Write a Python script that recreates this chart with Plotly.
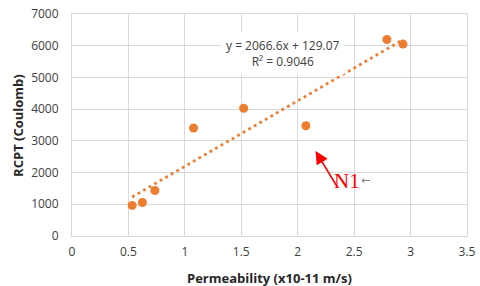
import plotly.graph_objects as go

permeability = [0.533, 0.624, 0.734, 1.077, 1.521, 2.072, 2.79, 2.933]
rcpt = [965, 1056, 1435, 3405, 4028, 3478, 6197, 6051]
slope = 2066.6
intercept = 129.07
eq_text = "y = 2066.6x + 129.07<br>R² = 0.9046"
x_ticks = [0, 0.5, 1, 1.5, 2, 2.5, 3, 3.5]
y_ticks = [0, 1000, 2000, 3000, 4000, 5000, 6000, 7000]

orange = "#ED7D31"
grid = "#D9D9D9"
font = "Open Sans"

tx = [min(permeability), max(permeability)]
ty = [slope * v + intercept for v in tx]

fig = go.Figure()
fig.add_trace(go.Scatter(x=tx, y=ty, mode="lines",
                         line=dict(color=orange, width=2.8, dash="2.8px,3.6px"),
                         hoverinfo="skip", showlegend=False))
fig.add_trace(go.Scatter(x=permeability, y=rcpt, mode="markers",
                         marker=dict(color=orange, size=9),
                         showlegend=False))

# white box behind N1 label
fig.add_shape(type="rect", xref="x", yref="y", x0=2.3, x1=2.63, y0=870, y1=2400,
              fillcolor="white", line=dict(width=0), layer="below")

fig.add_annotation(x=1.87, y=5760, xref="x", yref="y", text=eq_text, showarrow=False,
                   font=dict(family=font, size=12, color="#404040"),
                   bgcolor="white", borderpad=4, align="center")

fig.add_annotation(x=2.435, y=1720, xref="x", yref="y", text="N1", showarrow=False,
                   font=dict(family="Liberation Serif", size=21, color="#FF0000"))
fig.add_annotation(x=2.6, y=1740, xref="x", yref="y", text="←", showarrow=False,
                   font=dict(family="DejaVu Sans", size=11, color="#808080"))
fig.add_annotation(x=2.158, y=2680, xref="x", yref="y", text="", showarrow=True,
                   ax=23, ay=38, arrowhead=2, arrowsize=1.6, arrowwidth=1.6,
                   arrowcolor="#FF0000")

# axis titles
fig.add_annotation(x=0.5, y=-0.188, xref="paper", yref="paper", yanchor="middle",
                   text="<b>Permeability (x10-11 m/s)</b>", showarrow=False,
                   font=dict(family=font, size=13, color="#262626"))
fig.add_annotation(x=-0.137, y=0.5, xref="paper", yref="paper", xanchor="center",
                   text="<b>RCPT (Coulomb)</b>", showarrow=False, textangle=-90,
                   font=dict(family=font, size=13, color="#262626"))

fig.update_layout(
    width=480, height=286,
    margin=dict(l=72, r=13, t=14, b=50, autoexpand=False),
    paper_bgcolor="white", plot_bgcolor="white",
    font=dict(family=font, size=12, color="#404040"),
    xaxis=dict(range=[0, 3.5], tickvals=x_ticks, ticktext=[str(v) for v in x_ticks],
               showgrid=True, gridcolor=grid, gridwidth=1, zeroline=False,
               showline=True, linecolor=grid, mirror=True, ticks="",
               ticklabelstandoff=5, automargin=False,
               tickfont=dict(size=12, color="#404040")),
    yaxis=dict(range=[0, 7000], tickvals=y_ticks, ticktext=[str(v) for v in y_ticks],
               showgrid=True, gridcolor=grid, gridwidth=1, zeroline=False,
               showline=True, linecolor=grid, mirror=True, ticks="",
               ticklabelstandoff=10, automargin=False,
               tickfont=dict(size=12, color="#404040")),
)

fig.write_html("out.html", config={"displayModeBar": False},
               post_script="document.body.style.margin='0px';document.body.style.padding='0px';")
